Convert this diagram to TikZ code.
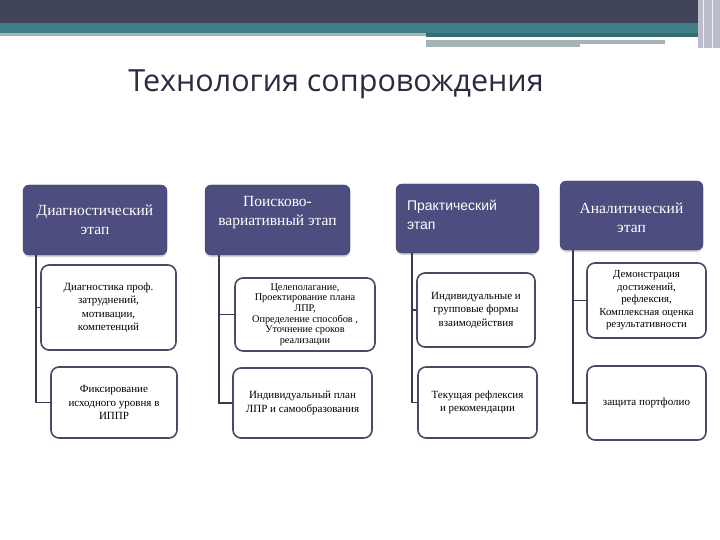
\documentclass[tikz,border=0pt]{standalone}
\usepackage{fontspec}
\setmainfont{Liberation Serif}
\newfontfamily\armsans{Liberation Sans}
\newfontfamily\titlesans{Open Sans}
\usetikzlibrary{shadows}

\definecolor{bandnavy}{HTML}{3F4458}
\definecolor{bandteal}{HTML}{3E7F86}
\definecolor{bandgray}{HTML}{A5B3B7}
\definecolor{bandlav}{HTML}{BBBCCC}
\definecolor{stagefill}{HTML}{4D4D80}
\definecolor{stageedge}{HTML}{3C3C66}
\definecolor{taskedge}{HTML}{4A4A62}
\definecolor{linkcol}{HTML}{3A3A4E}
\definecolor{titlecol}{HTML}{2A2A40}

\begin{document}
\begin{tikzpicture}[
        x=1pt, y=-1pt,
        stage/.style={draw=stageedge, fill=stagefill, rounded corners=6pt,
            inner sep=0pt, drop shadow={shadow xshift=0pt, shadow yshift=-2pt, opacity=0.35}},
        stagetext/.style={text=white, align=center, inner sep=0pt,
            font=\fontsize{15.5}{19}\selectfont},
        task/.style={draw=taskedge, line width=1.6pt, fill=white, rounded corners=8pt,
            inner sep=0pt, align=center, font=\fontsize{11}{13.5}\selectfont},
        link/.style={draw=linkcol, line width=1.4pt}
    ]

    \useasboundingbox (0,0) rectangle (720,540);

    % Header bands
    \fill[bandnavy] (0,0) rectangle (720,23);
    \fill[bandteal] (0,23) rectangle (720,33);
    \fill[bandgray] (0,33) rectangle (426,36);
    \fill[bandteal!85!black] (426,33) rectangle (700,37);
    \fill[bandgray] (426,40) rectangle (665,44);
    \fill[bandgray] (426,44) rectangle (580,47);
    \fill[bandlav] (698,0) rectangle (720,48);
    \draw[white!80!bandlav, line width=1pt] (703,0) -- (703,48);
    \draw[white!80!bandlav, line width=1pt] (712,0) -- (712,48);

    % Title
    \node[text=titlecol, font=\titlesans\fontsize{30.5}{36}\selectfont] (title) at (336,84)
    {Технология сопровождения};

    % Stage headers
    \node[stage, minimum width=144pt, minimum height=70pt] (h1) at (95,220) {};
    \node[stage, minimum width=145pt, minimum height=70pt] (h2) at (277.5,220) {};
    \node[stage, minimum width=143pt, minimum height=69pt] (h3) at (467.5,218.5) {};
    \node[stage, minimum width=143pt, minimum height=69pt] (h4) at (631.5,215.5) {};

    \node[stagetext] (h1text) at (h1.center) {Диагностический\\этап};
    \node[stagetext] (h2text) at ([yshift=7pt]h2.center) {Поисково-\\вариативный этап};
    \node[stagetext, align=left, anchor=west, font=\armsans\fontsize{14}{19}\selectfont]
    (h3text) at ([xshift=11pt, yshift=4pt]h3.west) {Практический\\этап};
    \node[stagetext] (h4text) at ([yshift=-2pt]h4.center) {Аналитический\\этап};

    % Tasks
    \node[task, minimum width=135pt, minimum height=85pt] (b11) at (108.5,307.5)
    {Диагностика проф.\\затруднений,\\мотивации,\\компетенций};
    \node[task, minimum width=126pt, minimum height=71pt] (b12) at (114,402.5)
    {Фиксирование\\исходного уровня в\\ИППР};

    \node[task, minimum width=140pt, minimum height=73pt,
        font=\fontsize{10.3}{10.6}\selectfont] (b21) at (305,314.5)
    {Целеполагание,\\Проектирование плана\\ЛПР,\\Определение способов ,\\Уточнение сроков\\реализации};
    \node[task, minimum width=139pt, minimum height=70pt] (b22) at (302.5,403)
    {Индивидуальный план\\ЛПР и самообразования};

    \node[task, minimum width=118pt, minimum height=74pt] (b31) at (476,310)
    {Индивидуальные и\\групповые формы\\взаимодействия};
    \node[task, minimum width=119pt, minimum height=71pt] (b32) at (477.5,402.5)
    {Текущая рефлексия\\и рекомендации};

    \node[task, minimum width=119pt, minimum height=75pt,
        font=\fontsize{10.8}{12.5}\selectfont] (b41) at (646.5,300.5)
    {Демонстрация\\достижений,\\рефлексия,\\Комплексная оценка\\результативности};
    \node[task, minimum width=119pt, minimum height=74pt] (b42) at (646.5,403)
    {защита портфолио};

    % Trunks and branches
    \coordinate (t1) at ([xshift=13pt]h1.south west);
    \coordinate (t2) at ([xshift=14pt]h2.south west);
    \coordinate (t3) at ([xshift=16pt]h3.south west);
    \coordinate (t4) at ([xshift=13pt]h4.south west);

    \draw[link] (t1) |- (b12.west);
    \draw[link] (t1 |- b11.west) -- (b11.west);
    \draw[link] (t2) |- (b22.west);
    \draw[link] (t2 |- b21.west) -- (b21.west);
    \draw[link] (t3) |- (b32.west);
    \draw[link] (t3 |- b31.west) -- (b31.west);
    \draw[link] (t4) |- (b42.west);
    \draw[link] (t4 |- b41.west) -- (b41.west);

    \end{tikzpicture}
\end{document}
